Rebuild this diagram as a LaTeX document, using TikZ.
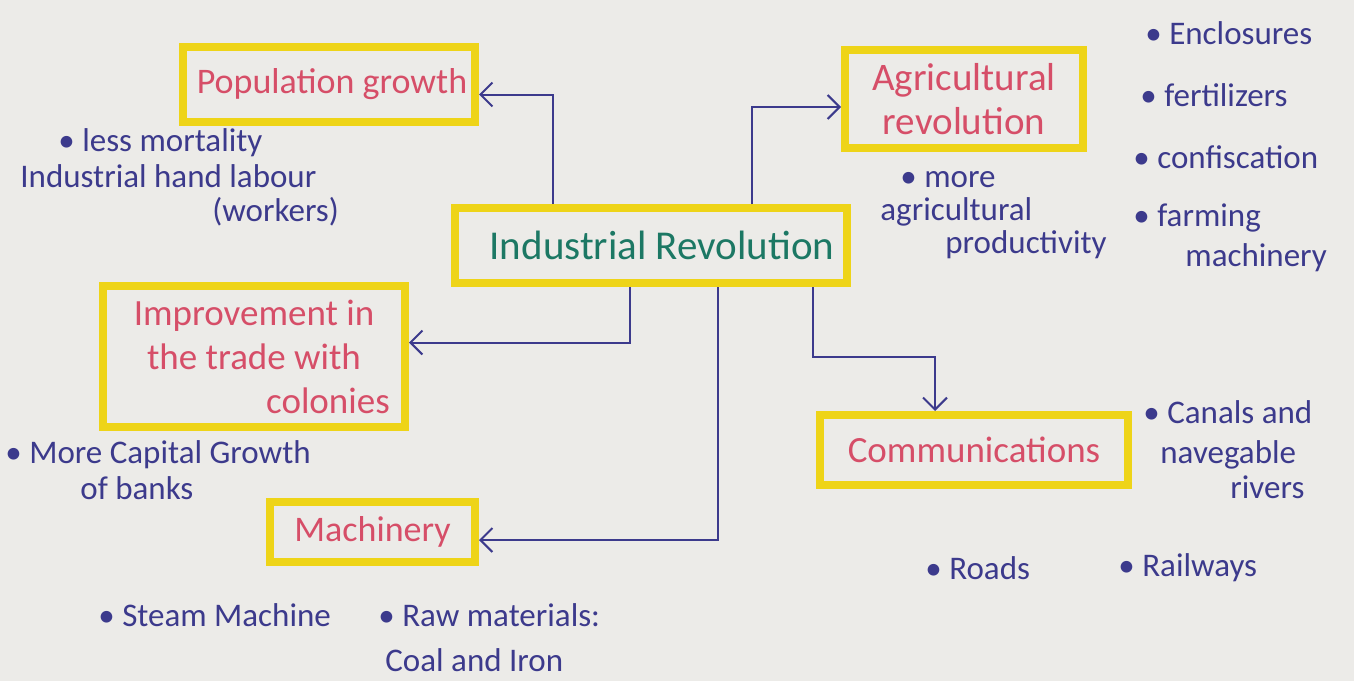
\documentclass[tikz,border=0pt]{standalone}
\usepackage{fontspec}
\setmainfont{Carlito}
\usetikzlibrary{arrows.meta}
\definecolor{paper}{RGB}{236,235,232}
\definecolor{hilite}{RGB}{238,212,24}
\definecolor{pinkink}{RGB}{214,78,104}
\definecolor{greenink}{RGB}{28,120,100}
\definecolor{blueink}{RGB}{60,58,140}
\tikzset{
  box/.style={draw=hilite, line width=4pt, text=pinkink, align=center,
    inner sep=0pt, font=\fontsize{18}{22}\selectfont},
  conn/.style={draw=blueink, line width=1pt,
    -{Straight Barb[length=6pt,width=12pt,line width=1pt]}},
  note/.style={text=blueink, anchor=west, inner sep=0pt,
    font=\fontsize{16.5}{18}\selectfont}
}
\begin{document}
\begin{tikzpicture}[x=0.5pt,y=-0.5pt]
\fill[paper] (0,0) rectangle (1354,681);
\useasboundingbox (0,0) rectangle (1354,681);

% boxes
\node[box, minimum width=146pt, minimum height=37.5pt] (PG) at (329,84.5) {\hspace*{3pt}Population growth};
\node[box, minimum width=119pt, minimum height=49pt, font=\fontsize{19.5}{22}\selectfont] (AR) at (964,99) {Agricultural\\revolution};
\node[box, text=greenink, minimum width=196pt, minimum height=37.5pt,
      font=\fontsize{20.5}{22}\selectfont] (IR) at (651,245.5) {\hspace*{11pt}Industrial Revolution};
\node[box, minimum width=151pt, minimum height=70.5pt, font=\fontsize{18.5}{22}\selectfont] (IM) at (254,356.5)
  {Improvement in\\the trade with\\\hspace*{4em}colonies};
\node[box, minimum width=154pt, minimum height=35pt, font=\fontsize{18.5}{22}\selectfont] (CO) at (974,450) {Communications};
\node[box, minimum width=102.5pt, minimum height=30pt] (MA) at (372.5,532) {Machinery};

% connectors
\draw[conn] ([xshift=-49pt]IR.north) |- ([yshift=-5pt]PG.east);
\draw[conn] ([xshift=50.5pt]IR.north) |- ([yshift=-4pt]AR.west);
\draw[conn] ([xshift=-10.5pt]IR.south) |- ([yshift=7pt]IM.east);
\draw[conn] ([xshift=33.5pt]IR.south) |- ([yshift=-4pt]MA.east);
\draw[conn] ([xshift=81pt]IR.south) -- ++(0,70) -| ([xshift=-19.5pt]CO.north);

% notes
\node[note] (n1) at (58,143) {• less mortality};
\node[note] (n2) at (20,176) {Industrial hand labour};
\node[note] (n3) at (212,212) {(workers)};
\node[note] (n4) at (900,180) {• more};
\node[note] (n5) at (880,212) {agricultural};
\node[note] (n6) at (945,245) {productivity};
\node[note] (n7) at (1145,33) {• Enclosures};
\node[note] (n8) at (1140,95) {• fertilizers};
\node[note] (n9) at (1133,157) {• confiscation};
\node[note] (n10) at (1133,218) {• farming};
\node[note] (n11) at (1185,258) {machinery};
\node[note] (n12) at (5,455) {• More Capital Growth};
\node[note] (n13) at (80,488) {of banks};
\node[note] (n14) at (98,615) {• Steam Machine};
\node[note] (n15) at (378,615) {• Raw materials:};
\node[note] (n16) at (385,660) {Coal and Iron};
\node[note] (n17) at (1143,412) {• Canals and};
\node[note] (n18) at (1160,455) {navegable};
\node[note] (n19) at (1230,487) {rivers};
\node[note] (n20) at (925,568) {• Roads};
\node[note] (n21) at (1118,568) {• Railways};
\end{tikzpicture}
\end{document}
